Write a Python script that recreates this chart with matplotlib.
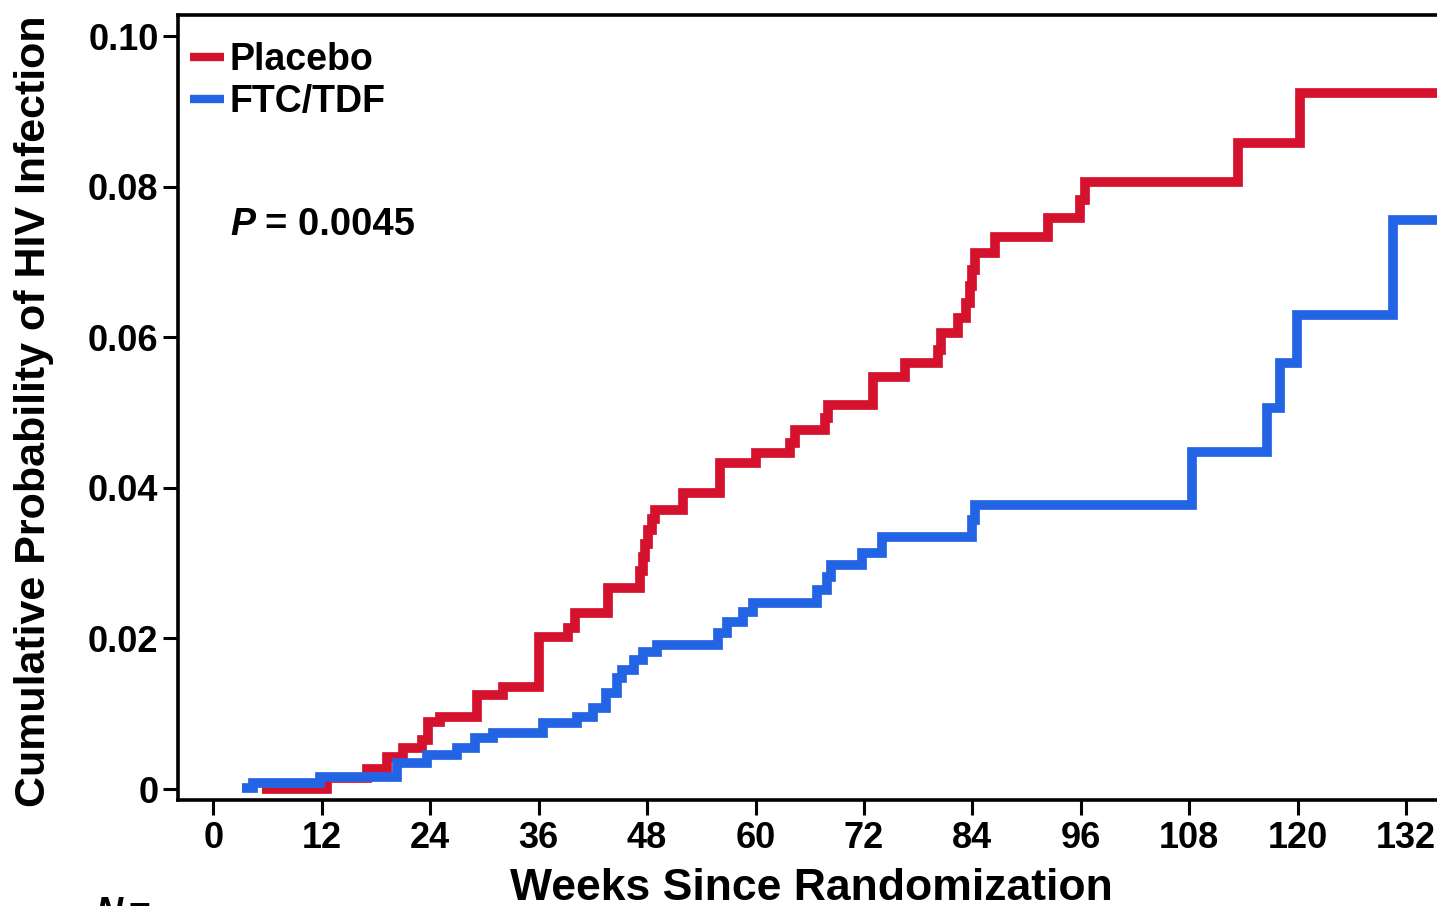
import matplotlib
matplotlib.use("Agg")
import matplotlib.pyplot as plt

# Kaplan-Meier style cumulative incidence
placebo_weeks = [5.4, 12.6, 17.0, 19.2, 21.0, 23.1, 23.8, 25.1, 29.2, 32.1, 36.0, 39.2, 40.0,
                 43.7, 47.2, 47.5, 47.8, 48.1, 48.5, 48.9, 52.0, 56.1, 60.0, 63.8, 64.4,
                 67.7, 68.0, 73.0, 76.5, 80.2, 80.5, 82.4, 83.3, 83.7, 84.0, 84.3, 86.5,
                 92.4, 95.9, 96.5, 113.4, 120.2, 138.0]
placebo_prob = [0.0, 0.0015, 0.0027, 0.0042, 0.0054, 0.0065, 0.0089, 0.0096, 0.0125, 0.0135,
                0.0202, 0.0214, 0.0234, 0.0267, 0.0290, 0.0308, 0.0326, 0.0344, 0.0358,
                0.0370, 0.0393, 0.0433, 0.0446, 0.0460, 0.0477, 0.0493, 0.0510, 0.0547,
                0.0566, 0.0583, 0.0606, 0.0626, 0.0645, 0.0668, 0.0689, 0.0712, 0.0733,
                0.0758, 0.0782, 0.0806, 0.0858, 0.0924, 0.0924]

ftc_weeks = [3.2, 4.4, 11.8, 20.3, 23.6, 27.0, 29.0, 31.0, 36.5, 40.3, 42.0, 43.4, 44.7,
             45.2, 46.5, 47.6, 49.1, 55.8, 56.8, 58.6, 59.7, 66.8, 67.9, 68.3, 71.8,
             74.0, 84.0, 84.3, 108.3, 116.6, 118.0, 119.9, 130.5, 138.0]
ftc_prob = [0.0001, 0.0008, 0.0016, 0.0035, 0.0045, 0.0054, 0.0068, 0.0074, 0.0088, 0.0096,
            0.0108, 0.0127, 0.0147, 0.0158, 0.0171, 0.0182, 0.0191, 0.0207, 0.0222,
            0.0235, 0.0247, 0.0264, 0.0282, 0.0297, 0.0313, 0.0335, 0.0357, 0.0377,
            0.0448, 0.0506, 0.0566, 0.0629, 0.0756, 0.0756]

x_ticks = list(range(0, 133, 12))
y_ticks = [0, 0.02, 0.04, 0.06, 0.08, 0.10]
y_tick_labels = ["0", "0.02", "0.04", "0.06", "0.08", "0.10"]

RED = "#d5122e"
BLUE = "#2364e4"

plt.rcParams["font.family"] = ["Liberation Sans", "DejaVu Sans"]
plt.rcParams["font.weight"] = "bold"

W, H = 1437, 906
fig = plt.figure(figsize=(W / 100, H / 100), dpi=100)
ax = fig.add_axes([178 / W, 106 / H, 1278 / W, 785 / H])

ax.step(placebo_weeks, placebo_prob, where="post", color=RED, lw=7,
        solid_joinstyle="miter", solid_capstyle="butt", label="Placebo", zorder=2)
ax.step(ftc_weeks, ftc_prob, where="post", color=BLUE, lw=7,
        solid_joinstyle="miter", solid_capstyle="butt", label="FTC/TDF", zorder=3)

ax.set_xlim(-3.9, 137.5)
ax.set_ylim(-0.00146, 0.1028)
ax.set_xticks(x_ticks)
ax.set_xticklabels([str(t) for t in x_ticks])
ax.set_yticks(y_ticks)
ax.set_yticklabels(y_tick_labels)
ax.tick_params(axis="both", direction="out", length=11, width=2.2, labelsize=26,
               top=False, right=False)
ax.tick_params(axis="x", pad=4)
ax.tick_params(axis="y", pad=3)
for lab in ax.get_xticklabels() + ax.get_yticklabels():
    lab.set_fontweight("bold")
for sp in ax.spines.values():
    sp.set_linewidth(2.6)

ax.set_xlabel("Weeks Since Randomization", fontsize=32, fontweight="bold")
ax.xaxis.set_label_coords(0.4953, -0.0866)
fig.text(34 / W, 1 - 411 / H, "Cumulative Probability of HIV Infection", rotation=90,
         ha="center", va="center", fontsize=31, fontweight="bold")

leg = ax.legend(loc="upper left", bbox_to_anchor=(0.0094, 0.965), frameon=False,
                fontsize=27, handlelength=0.9, handletextpad=0.15, labelspacing=0.16,
                borderpad=0, borderaxespad=0)
for h in leg.get_lines():
    h.set_linewidth(6)
for t in leg.get_texts():
    t.set_fontweight("bold")

ax.text(0.0407, 0.732, "P", transform=ax.transAxes, fontsize=27, fontweight="bold",
        fontstyle="italic", va="center", ha="left")
ax.text((265 - 178) / 1278, 0.732, "= 0.0045", transform=ax.transAxes, fontsize=27.5,
        fontweight="bold", va="center", ha="left")

fig.text(95 / W, 1 - 896 / H, "N", fontsize=27, fontweight="bold", fontstyle="italic",
         va="top", ha="left")
fig.text(128 / W, 1 - 896 / H, "=", fontsize=27, fontweight="bold", va="top", ha="left")

fig.savefig("out.png", dpi=100)
